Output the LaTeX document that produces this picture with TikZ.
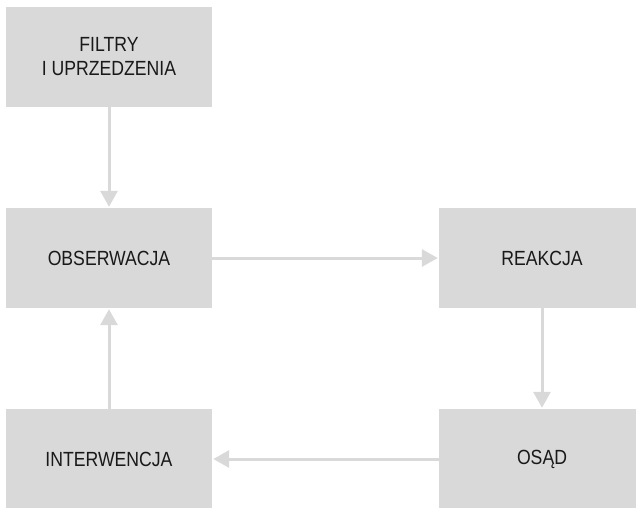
\documentclass[tikz,border=0pt]{standalone}
\usepackage{fontspec}
\setmainfont[FakeStretch=0.86]{Liberation Sans}
\usetikzlibrary{arrows.meta}
\definecolor{boxgray}{HTML}{D9D9D9}

\begin{document}
\begin{tikzpicture}[x=1pt,y=-1pt]
	\tikzstyle{stage}=[rectangle,fill=boxgray,minimum width=206pt,minimum height=100pt,inner sep=0pt,align=center,font=\fontsize{20.5}{24}\selectfont,text=black!90]
	\tikzstyle{flow}=[draw=boxgray,line width=3pt,-{Triangle[length=16pt,width=17pt]},shorten >=1pt]
	\useasboundingbox (0,0) rectangle (636,507);
	\node[stage] (filtry) at (109,57) {FILTRY\\I UPRZEDZENIA};
	\node[stage] (obs) at (109,258) {OBSERWACJA};
	\node[stage] (reak) at (542,258) {REAKCJA};
	\node[stage] (inter) at (109,459) {INTERWENCJA};
	\node[stage] (osad) at (542,459) {OSĄD};
	\draw[flow] (filtry) -- (obs);
	\draw[flow] (obs) -- (reak);
	\draw[flow] (reak) -- (osad);
	\draw[flow] (osad) -- (inter);
	\draw[flow] (inter) -- (obs);
\end{tikzpicture}
\end{document}
